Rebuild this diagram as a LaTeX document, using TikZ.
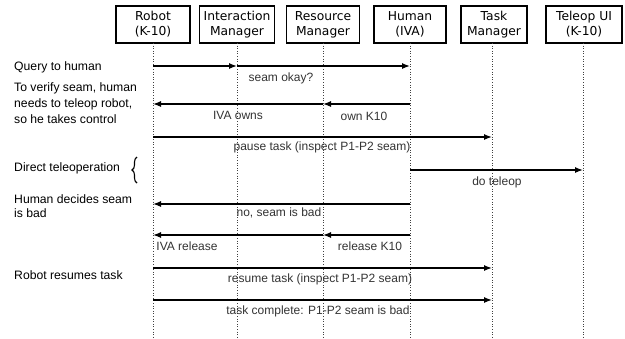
\documentclass[tikz,border=0pt]{standalone}
\usepackage{fontspec}
\setmainfont{Liberation Sans}
\newfontfamily\boxfont{DejaVu Sans}
\usetikzlibrary{arrows.meta,decorations.pathreplacing}
\begin{document}
\begin{tikzpicture}[x=1pt,y=-1pt,
  actor/.style={draw,line width=1.1pt,minimum height=37pt,inner sep=0pt,align=center,
    font=\boxfont\fontsize{12.3}{15}\selectfont},
  life/.style={dotted,line width=0.6pt,black!75},
  msg/.style={line width=1.3pt,-{Latex[length=8pt,width=6pt]}},
  lbl/.style={font=\fontsize{12}{14}\selectfont,text=black!80,inner sep=0pt},
  note/.style={font=\fontsize{12.2}{16}\selectfont,align=left,anchor=west,inner sep=0pt},
]
\useasboundingbox (0,0) rectangle (625,338);

% actors
\node[actor,minimum width=74pt] (robot)  at (153,24.5) {Robot\\(K-10)};
\node[actor,minimum width=75pt] (im)     at (237,24.5) {Interaction\\Manager};
\node[actor,minimum width=73pt] (rm)     at (323,24.5) {Resource\\Manager};
\node[actor,minimum width=72pt] (human)  at (410,24.5) {Human\\(IVA)};
\node[actor,minimum width=66pt] (task)   at (494,24.5) {Task\\Manager};
\node[actor,minimum width=76pt] (teleop) at (584,24.5) {Teleop UI\\(K-10)};

% lifelines
\coordinate (bot) at (0,338);
\foreach \n/\x in {robot/153,im/237,rm/323,human/410,task/492,teleop/583}{
  \coordinate (\n L) at (\x,43);
  \draw[life] (\n L) -- (\n L |- bot);
}

% message rows
\coordinate (m1) at (0,66);
\coordinate (m2) at (0,104);
\coordinate (m3) at (0,137);
\coordinate (m4) at (0,170);
\coordinate (m5) at (0,204);
\coordinate (m6) at (0,235);
\coordinate (m7) at (0,268);
\coordinate (m8) at (0,300);

\draw[msg] (robotL |- m1) -- (imL |- m1);
\draw[msg] (imL |- m1) -- (humanL |- m1);
\node[lbl] (l1) at (281,78) {seam okay?};

\draw[msg] (humanL |- m2) -- (rmL |- m2);
\draw[msg] (rmL |- m2) -- (robotL |- m2);
\node[lbl] (l2a) at (238,115) {IVA owns};
\node[lbl] (l2b) at (364,116) {own K10};

\draw[msg] (robotL |- m3) -- (taskL |- m3);
\node[lbl] (l3) at (322,147) {pause task (inspect P1-P2 seam)};

\draw[msg] (humanL |- m4) -- (teleopL |- m4);
\node[lbl] (l4) at (497,182) {do teleop};

\draw[msg] (humanL |- m5) -- (robotL |- m5);
\node[lbl] (l5) at (279,213) {no, seam is bad};

\draw[msg] (humanL |- m6) -- (rmL |- m6);
\draw[msg] (rmL |- m6) -- (robotL |- m6);
\node[lbl] (l6a) at (187,246) {IVA release};
\node[lbl] (l6b) at (370,246) {release K10};

\draw[msg] (robotL |- m7) -- (taskL |- m7);
\node[lbl] (l7) at (320,279) {resume task (inspect P1-P2 seam)};

\draw[msg] (robotL |- m8) -- (taskL |- m8);
\node[lbl] (l8) at (318,311) {task complete: P1-P2 seam is bad};

% left notes
\node[note] (n1) at (14,67) {Query to human};
\node[note] (n2) at (14,103) {To verify seam, human\\needs to teleop robot,\\so he takes control};
\node[note] (n3) at (14,168) {Direct teleoperation};
\node[note,font=\fontsize{12.2}{14}\selectfont] (n4) at (14,206) {Human decides seam\\is bad};
\node[note] (n5) at (14,275) {Robot resumes task};

% brace
\coordinate (bA) at (137,183);
\coordinate (bB) at (137,157);
\draw[line width=1.1pt,decorate,decoration={brace,amplitude=5pt}] (bA) -- (bB);
\end{tikzpicture}
\end{document}
